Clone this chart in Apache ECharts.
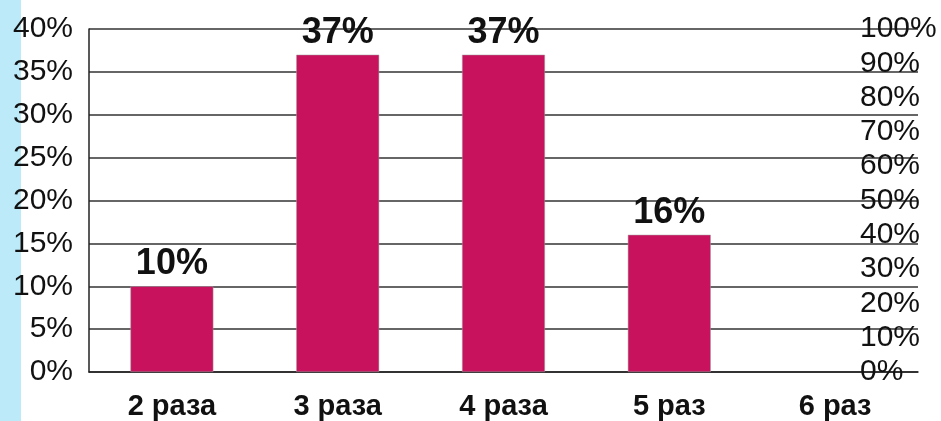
<!DOCTYPE html>
<html>
<head>
<meta charset="utf-8">
<script src="https://cdn.jsdelivr.net/npm/echarts@6/dist/echarts.min.js"></script>
<style>
  html, body { margin: 0; padding: 0; background: #fff; }
  #chart { width: 941px; height: 421px; }
</style>
</head>
<body>
<div id="chart"></div>
<script>
// data
const categories = ['2 раза', '3 раза', '4 раза', '5 раз', '6 раз']
const shares = [10, 37, 37, 16, null]
const leftTicks = { min: 0, max: 40, interval: 5 }
const rightTicks = { min: 0, max: 100, interval: 10 }

const font = 'Liberation Sans, Arial, sans-serif'

let myChart = echarts.init(document.getElementById('chart'))
myChart.setOption({
  animation: false,
  grid: { left: 89, right: 23, top: 29, bottom: 49 },
  graphic: [
    {
      type: 'rect',
      left: 0,
      top: 0,
      shape: { width: 21, height: 421 },
      style: { fill: '#bdeaf8' },
      z: -1
    }
  ],
  xAxis: {
    type: 'category',
    data: categories,
    axisLine: { lineStyle: { color: '#222', width: 1.5 } },
    axisTick: { show: false },
    axisLabel: {
      color: '#111',
      fontFamily: font,
      fontSize: 29,
      fontWeight: 'bold',
      margin: 20
    }
  },
  yAxis: [
    {
      type: 'value',
      min: leftTicks.min,
      max: leftTicks.max,
      interval: leftTicks.interval,
      axisLine: { show: true, lineStyle: { color: '#222', width: 1.5 } },
      axisTick: { show: false },
      splitLine: { lineStyle: { color: '#333', width: 1.5 } },
      axisLabel: {
        color: '#111',
        fontFamily: font,
        fontSize: 30,
        margin: 16,
        formatter: '{value}%'
      }
    },
    {
      type: 'value',
      position: 'right',
      min: rightTicks.min,
      max: rightTicks.max,
      interval: rightTicks.interval,
      axisLine: { show: false },
      axisTick: { show: false },
      splitLine: { show: false },
      axisLabel: {
        color: '#111',
        fontFamily: font,
        fontSize: 30,
        margin: -58,
        padding: [6, 0, 0, 0],
        formatter: '{value}%'
      }
    }
  ],
  series: [
    {
      type: 'bar',
      data: shares,
      barWidth: '50%',
      itemStyle: { color: '#c8125e', borderColor: '#a0a0a0', borderWidth: 0.5 },
      label: {
        show: true,
        position: 'top',
        distance: 4,
        color: '#111',
        fontFamily: font,
        fontSize: 36,
        fontWeight: 'bold',
        formatter: '{c}%'
      }
    }
  ]
})
</script>
</body>
</html>
